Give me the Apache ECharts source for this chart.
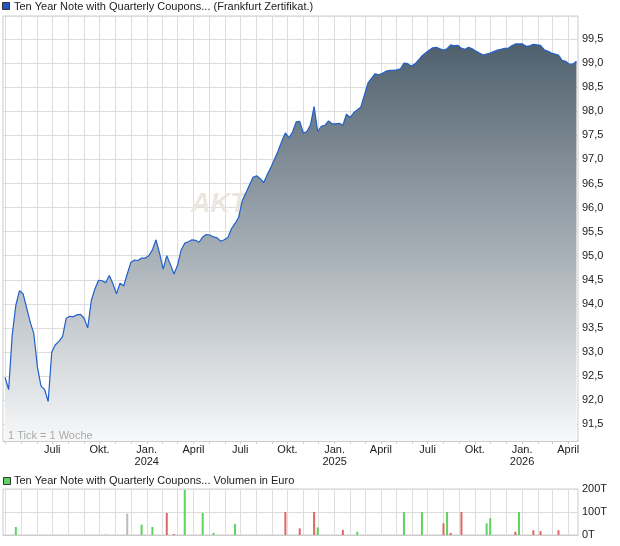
<!DOCTYPE html>
<html><head><meta charset="utf-8">
<script src="https://cdn.jsdelivr.net/npm/echarts@6/dist/echarts.min.js"></script>
<style>html,body{margin:0;padding:0;background:#fff}#c{width:620px;height:546px}</style>
</head><body><div id="c"></div>
<script>
// ---- data ----
const axisStart = '2023-03-27';
const axisEnd = '2026-04-20';
const firstWeek = '2023-03-31';           // 1 Tick = 1 Woche
const firstLabel = '2023-07-01';          // first shown axis label
const priceValues = [
  92.47, 92.22, 93.36, 93.97, 94.27, 94.21, 93.92, 93.62, 93.38, 92.69,
  92.29, 92.22, 91.97, 93.00, 93.15, 93.22, 93.32, 93.70, 93.74, 93.73,
  93.77, 93.78, 93.70, 93.50, 94.07, 94.31, 94.49, 94.48, 94.44, 94.59,
  94.42, 94.21, 94.43, 94.37, 94.62, 94.86, 94.91, 94.90, 94.95, 94.95,
  95.00, 95.12, 95.33, 95.05, 94.72, 95.00, 94.82, 94.62, 94.80, 95.12,
  95.26, 95.29, 95.33, 95.32, 95.28, 95.39, 95.44, 95.43, 95.39, 95.37,
  95.30, 95.33, 95.38, 95.56, 95.67, 95.80, 96.14, 96.30, 96.47, 96.63,
  96.66, 96.60, 96.52, 96.69, 96.84, 97.01, 97.18, 97.38, 97.55, 97.45,
  97.57, 97.78, 97.79, 97.55, 97.58, 97.72, 98.10, 97.58, 97.69, 97.71,
  97.80, 97.74, 97.74, 97.75, 97.71, 97.94, 97.87, 97.97, 98.03, 98.09,
  98.34, 98.59, 98.69, 98.78, 98.76, 98.79, 98.83, 98.85, 98.85, 98.86,
  98.88, 99.00, 98.99, 98.94, 98.98, 99.06, 99.15, 99.21, 99.27, 99.32,
  99.33, 99.30, 99.27, 99.30, 99.38, 99.36, 99.37, 99.31, 99.29, 99.33,
  99.30, 99.25, 99.21, 99.17, 99.19, 99.21, 99.24, 99.27, 99.29, 99.31,
  99.31, 99.36, 99.40, 99.40, 99.40, 99.35, 99.36, 99.39, 99.38, 99.37,
  99.28, 99.25, 99.21, 99.19, 99.17, 99.06, 99.04, 98.98, 98.98, 99.04
];
// volume (thousand EUR) by week number
const volWeek = [3, 28, 34, 38, 41, 45, 47, 50, 55, 58, 64, 78, 82, 86, 87, 94, 98, 111, 116, 122, 123, 124, 127, 134, 135, 142, 143, 147, 149, 154];
const volK    = [35, 3, 93, 45, 35, 96, 4, 196, 96, 9, 48, 100, 29, 100, 33, 22, 14, 100, 100, 51, 100, 9, 100, 51, 73, 14, 100, 21, 17, 21];
const volDir  = ['g','n','n','g','g','r','r','g','g','g','g','r','r','r','g','r','g','g','g','r','g','r','r','g','g','r','g','r','r','r'];
const quarterNames = {'01': 'Jan.', '04': 'April', '07': 'Juli', '10': 'Okt.'};
const priceName = 'Ten Year Note with Quarterly Coupons... (Frankfurt Zertifikat.)';
const volName = 'Ten Year Note with Quarterly Coupons... Volumen in Euro';

// ---- build ----
const DAY = 86400000;
const toMs = s => Date.UTC(+s.slice(0,4), +s.slice(5,7) - 1, +s.slice(8,10));
const fmt = ms => new Date(ms).toISOString().slice(0, 10);
const days = [];
for (let t = toMs(axisStart); t <= toMs(axisEnd); t += DAY) days.push(fmt(t));
const weekDate = i => fmt(toMs(firstWeek) + 7 * i * DAY);
const priceData = priceValues.map((v, i) => [weekDate(i), v]);
const dirColor = {g: '#5fd35f', r: '#e06666', n: '#bbbbbb'};
const volData = volWeek.map((w, k) => ({value: [weekDate(w), volK[k] * 1000], itemStyle: {color: dirColor[volDir[k]]}}));

const isMonthStart = (i, v) => v.slice(8) === '01';
const isQuarterStart = (i, v) => v >= firstLabel && v.slice(8) === '01' && quarterNames[v.slice(5,7)] !== undefined;
const FONT = "'Liberation Sans', Arial, sans-serif";

const chart = echarts.init(document.getElementById('c'), null, {renderer: 'canvas'});
chart.setOption({
  animation: false,
  backgroundColor: '#fff',
  grid: [
    {left: 3, right: 42, top: 16, height: 425, show: true, borderColor: '#cccccc', borderWidth: 1, backgroundColor: '#fff', containLabel: false, outerBoundsMode: 'none'},
    {left: 3, right: 42, top: 489, height: 46, show: true, borderColor: '#cccccc', borderWidth: 1, backgroundColor: '#fff', containLabel: false, outerBoundsMode: 'none'}
  ],
  xAxis: [
    {
      type: 'category', gridIndex: 0, data: days, boundaryGap: false,
      axisLine: {show: true, lineStyle: {color: '#cccccc'}},
      axisTick: {show: true, interval: isMonthStart, length: 3, lineStyle: {color: '#cccccc'}},
      axisLabel: {
        interval: isQuarterStart, color: '#222', fontSize: 11, fontFamily: FONT, margin: 3, lineHeight: 12,
        formatter: v => { const m = v.slice(5,7); return m === '01' ? 'Jan.\n' + v.slice(0,4) : quarterNames[m]; }
      },
      splitLine: {show: true, interval: isMonthStart, lineStyle: {color: '#dddddd', width: 1}}
    },
    {
      type: 'category', gridIndex: 1, data: days, boundaryGap: false,
      axisLine: {show: true, lineStyle: {color: '#cccccc'}},
      axisTick: {show: false}, axisLabel: {show: false},
      splitLine: {show: true, interval: isMonthStart, lineStyle: {color: '#dddddd', width: 1}}
    }
  ],
  yAxis: [
    {
      type: 'value', gridIndex: 0, position: 'right', min: 91.15, max: 99.98, splitNumber: 17,
      axisLine: {show: false}, axisTick: {show: false},
      axisLabel: {
        color: '#222', fontSize: 11, fontFamily: FONT, margin: 4,
        formatter: v => Math.abs(v * 2 - Math.round(v * 2)) < 1e-6 ? v.toFixed(1).replace('.', ',') : ''
      },
      splitLine: {show: true, lineStyle: {color: '#dddddd', width: 1}}
    },
    {
      type: 'value', gridIndex: 1, position: 'right', min: 0, max: 200000, interval: 100000,
      axisLine: {show: false}, axisTick: {show: false},
      axisLabel: {color: '#222', fontSize: 11, fontFamily: FONT, margin: 4, formatter: v => (v / 1000) + 'T'},
      splitLine: {show: true, lineStyle: {color: '#dddddd', width: 1}}
    }
  ],
  series: [
    {
      name: priceName, type: 'line', xAxisIndex: 0, yAxisIndex: 0, data: priceData,
      showSymbol: false, symbol: 'none',
      lineStyle: {color: '#2160c8', width: 1.2},
      areaStyle: {
        opacity: 1,
        color: {type: 'linear', x: 0, y: 16, x2: 0, y2: 441, global: true,
          colorStops: [{offset: 0, color: '#435563'}, {offset: 1, color: '#f7f8f9'}]}
      },
      z: 3
    },
    {
      name: volName, type: 'bar', xAxisIndex: 1, yAxisIndex: 1, data: volData, barWidth: 2
    }
  ],
  graphic: [
    {type: 'text', left: 191, top: 191, z: 1, silent: true,
      style: {text: 'AKTIENCHECK', font: "italic bold 27px " + FONT, fill: '#ebe6df'}},
    {type: 'rect', shape: {x: 2.5, y: 2.5, width: 7, height: 7}, style: {fill: '#1f56c4', stroke: '#333', lineWidth: 1}, z: 10},
    {type: 'text', x: 14, y: 6.5, z: 10, style: {text: priceName, font: '11px ' + FONT, fill: '#222', verticalAlign: 'middle'}},
    {type: 'rect', shape: {x: 3.5, y: 477.5, width: 7, height: 7}, style: {fill: '#5fd35f', stroke: '#333', lineWidth: 1}, z: 10},
    {type: 'text', x: 14, y: 481, z: 10, style: {text: volName, font: '11px ' + FONT, fill: '#222', verticalAlign: 'middle'}},
    {type: 'text', x: 8, y: 435.5, z: 10, style: {text: '1 Tick = 1 Woche', font: '11px ' + FONT, fill: '#aaaaaa', verticalAlign: 'middle'}}
  ]
});
</script></body></html>
